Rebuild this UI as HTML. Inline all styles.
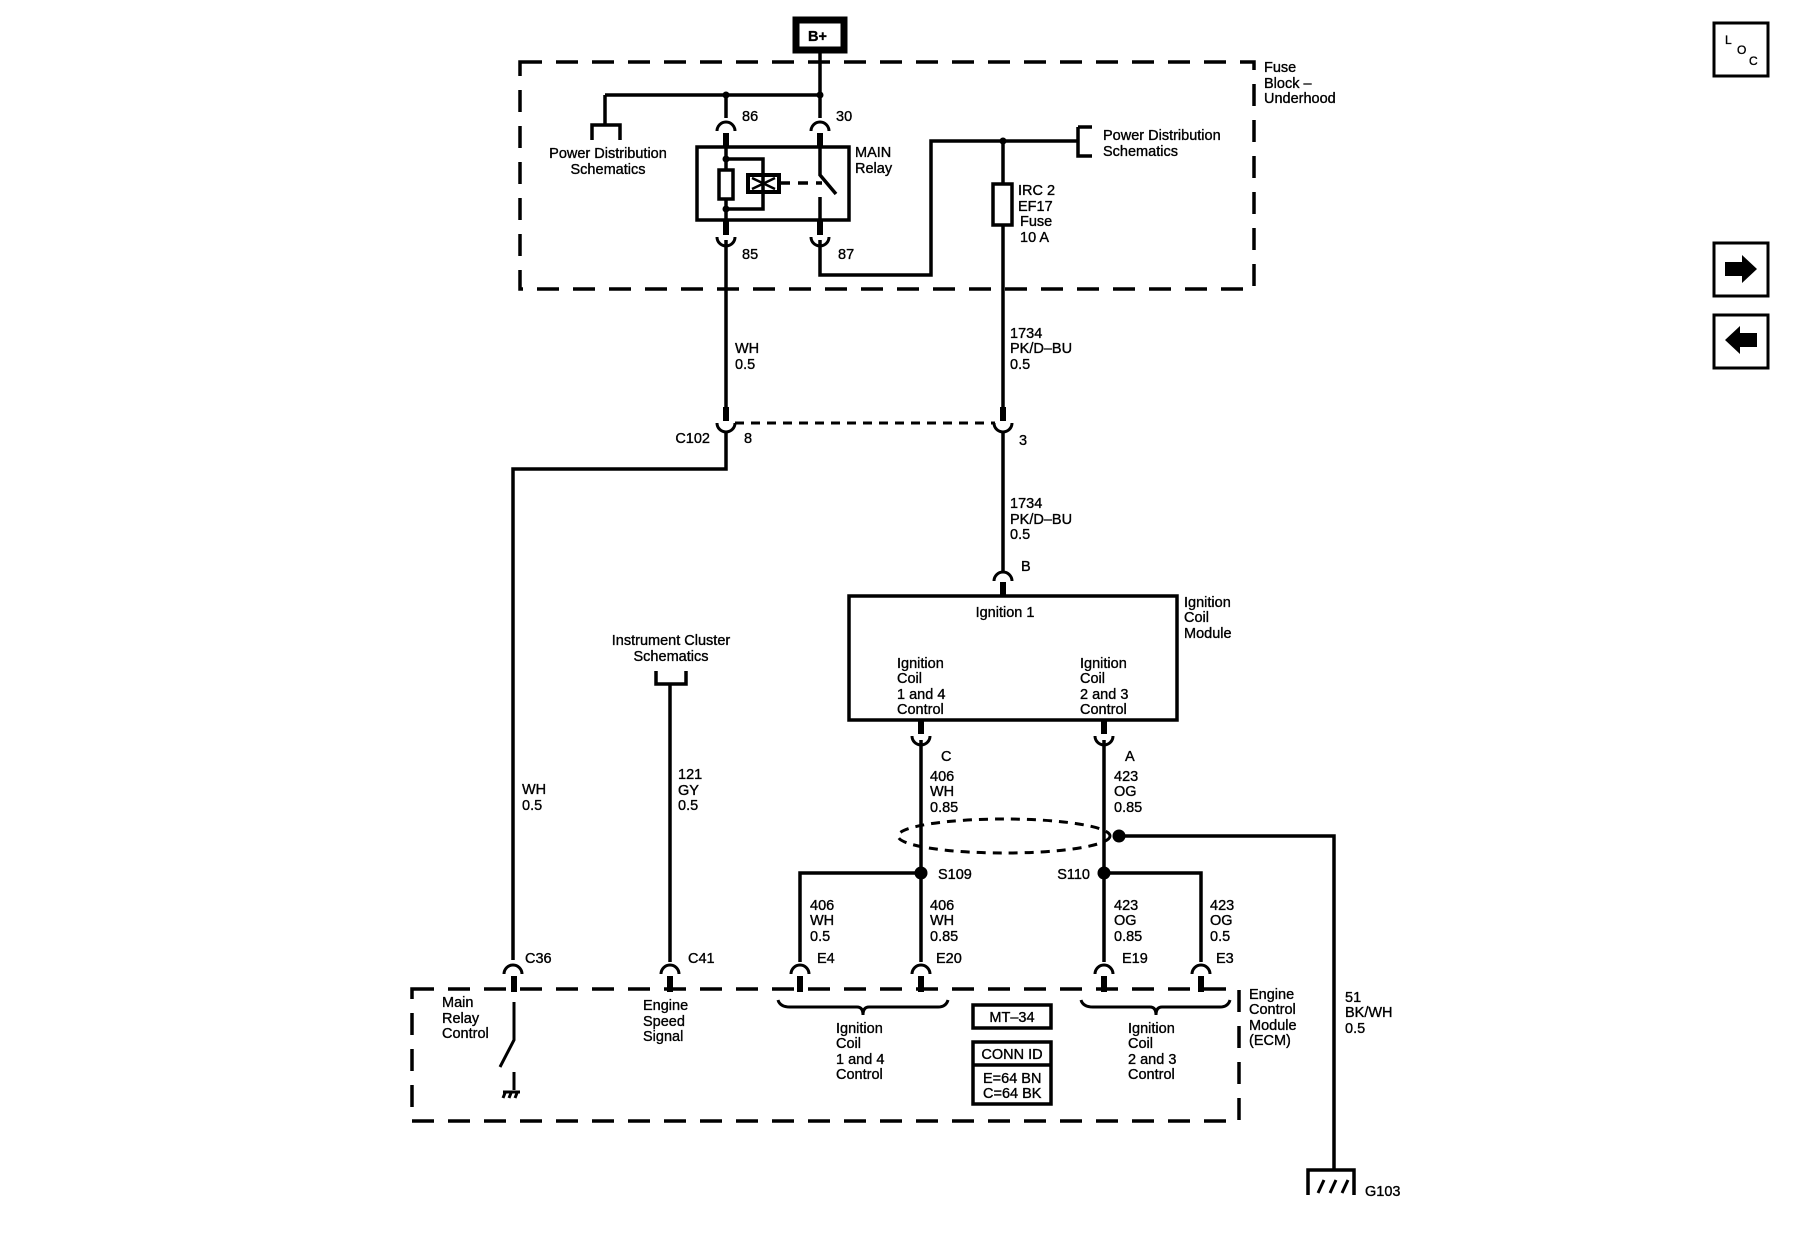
<!DOCTYPE html>
<html><head><meta charset="utf-8"><style>
html,body{margin:0;padding:0;background:#fff;}
svg{display:block;}
text{font-family:"Liberation Sans",Arial,sans-serif;font-size:14.5px;fill:#000;stroke:#000;stroke-width:0.35px;}
</style></head><body>
<svg width="1800" height="1248" viewBox="0 0 1800 1248" xmlns="http://www.w3.org/2000/svg">
<g fill="none" stroke="#000" stroke-width="3.5">
<path d="M520 62 H1254 V289 H520 Z" stroke-dasharray="22 14"/>
<path d="M412 989 H1239 V1121 H412 Z" stroke-dasharray="22 14"/>
<rect x="796" y="20" width="48" height="30" stroke-width="7"/>
<path d="M820 53 V95 M605 95 H820 M605 95 V125 M592 140 V125 H620 V140"/>
<path d="M726 95 V118 M820 95 V118"/>
<rect x="697" y="147" width="152" height="73"/>
<path d="M726 147 V220 M726 159 H763 V209 H726"/>
<rect x="719" y="170" width="14" height="29" fill="#fff"/>
<rect x="748" y="175" width="31" height="17" stroke-width="4"/>
<path d="M752 178 L775 189 M752 189 L775 178" stroke-width="2.5"/>
<path d="M780 183 H822" stroke-dasharray="10 8"/>
<path d="M820 147 V175 L836 194 M820 197 V220"/>
<path d="M820 240 V275 H931 V141 H1078 M1078 127 V156 H1092 M1078 127 H1092"/>
<path d="M1003 141 V418"/>
<rect x="993" y="184" width="19" height="41" fill="#fff"/>
<path d="M726 240 V418"/>
<path d="M735 423 H995" stroke-dasharray="9 7" stroke-width="3"/>
<path d="M726 432 V469 H513 V960"/>
<path d="M1003 432 V572"/>
<rect x="849" y="596" width="328" height="124"/>
<path d="M921 740 V962 M1104 740 V962 M921 873 H800 V962 M1104 873 H1201 V962"/>
<ellipse cx="1004" cy="836" rx="106" ry="17" stroke-dasharray="9 7" stroke-width="3"/>
<path d="M1119 836 H1334 V1170 M1308 1195 V1170 H1354 V1195"/>
<path d="M1318 1193 L1324 1180 M1330 1193 L1336 1180 M1342 1193 L1348 1180" stroke-width="3"/>
<path d="M656 671 V684 H686 V671 M670 684 V962"/>
<path d="M514 1002 V1040 L500 1067 M514 1072 V1090 M505 1093 L503 1098 M511 1093 L509 1098 M517 1093 L515 1098 M503 1092 H520" stroke-width="3"/>
<path d="M778 1000 Q780 1007 790 1007 H857 Q863 1007 863 1015 Q863 1007 869 1007 H938 Q946 1007 948 1000" stroke-width="3"/>
<path d="M1081 1000 Q1083 1007 1093 1007 H1150 Q1156 1007 1156 1015 Q1156 1007 1162 1007 H1220 Q1228 1007 1230 1000" stroke-width="3"/>
<rect x="973" y="1005" width="78" height="23"/>
<rect x="973" y="1042" width="78" height="62"/>
<path d="M973 1065 H1051"/>
<rect x="1714" y="23" width="54" height="53" stroke-width="3"/>
<rect x="1714" y="243" width="54" height="53" stroke-width="3"/>
<rect x="1714" y="315" width="54" height="53" stroke-width="3"/>
</g>
<g fill="#000">
<circle cx="726" cy="95" r="3.5"/><circle cx="820" cy="95" r="3.5"/>
<circle cx="726" cy="159" r="3.5"/><circle cx="726" cy="209" r="3.5"/>
<circle cx="1003" cy="141" r="3.5"/>
<circle cx="921" cy="873" r="6.5"/><circle cx="1104" cy="873" r="6.5"/><circle cx="1119" cy="836" r="6.5"/>
<polygon points="1725,262 1742,262 1742,255 1757,269 1742,283 1742,276 1725,276"/>
<polygon points="1757,333 1740,333 1740,326 1725,340 1740,354 1740,347 1757,347"/>
<rect x="723" y="133" width="6" height="14"/><rect x="817" y="133" width="6" height="14"/>
<rect x="723" y="220" width="6" height="15"/><rect x="817" y="220" width="6" height="15"/>
<rect x="723" y="407" width="6" height="14"/><rect x="1000" y="407" width="6" height="14"/>
<rect x="1000" y="582" width="6" height="14"/>
<rect x="918" y="720" width="6" height="14"/><rect x="1101" y="720" width="6" height="14"/>
<rect x="511" y="976" width="6" height="16"/><rect x="667" y="976" width="6" height="16"/>
<rect x="797" y="976" width="6" height="16"/><rect x="918" y="976" width="6" height="16"/>
<rect x="1101" y="976" width="6" height="16"/><rect x="1198" y="976" width="6" height="16"/>
</g>
<g fill="none" stroke="#000" stroke-width="3">
<path d="M717 131 A9 9 0 0 1 735 131 M811 131 A9 9 0 0 1 829 131"/>
<path d="M717 237 A9 9 0 0 0 735 237 M811 237 A9 9 0 0 0 829 237"/>
<path d="M717 423 A9 9 0 0 0 735 423 M994 423 A9 9 0 0 0 1012 423"/>
<path d="M994 581 A9 9 0 0 1 1012 581"/>
<path d="M912 736 A9 9 0 0 0 930 736 M1095 736 A9 9 0 0 0 1113 736"/>
<path d="M504 974 A9 9 0 0 1 522 974 M661 974 A9 9 0 0 1 679 974 M791 974 A9 9 0 0 1 809 974 M912 974 A9 9 0 0 1 930 974 M1095 974 A9 9 0 0 1 1113 974 M1192 974 A9 9 0 0 1 1210 974"/>
</g>
<g>
<text x="808" y="41" style="font-weight:bold">B+</text>
<text x="1264" y="72">Fuse</text><text x="1264" y="88">Block –</text><text x="1264" y="103">Underhood</text>
<text x="608" y="158" text-anchor="middle">Power Distribution</text><text x="608" y="174" text-anchor="middle">Schematics</text>
<text x="742" y="121">86</text><text x="836" y="121">30</text>
<text x="742" y="259">85</text><text x="838" y="259">87</text>
<text x="855" y="157">MAIN</text><text x="855" y="173">Relay</text>
<text x="1103" y="140">Power Distribution</text><text x="1103" y="156">Schematics</text>
<text x="1018" y="195">IRC 2</text><text x="1018" y="211">EF17</text><text x="1020" y="226">Fuse</text><text x="1020" y="242">10 A</text>
<text x="735" y="353">WH</text><text x="735" y="369">0.5</text>
<text x="1010" y="338">1734</text><text x="1010" y="353">PK/D–BU</text><text x="1010" y="369">0.5</text>
<text x="710" y="443" text-anchor="end">C102</text><text x="744" y="443">8</text><text x="1019" y="445">3</text>
<text x="1010" y="508">1734</text><text x="1010" y="524">PK/D–BU</text><text x="1010" y="539">0.5</text>
<text x="1021" y="571">B</text>
<text x="1005" y="617" text-anchor="middle">Ignition 1</text>
<text x="1184" y="607">Ignition</text><text x="1184" y="622">Coil</text><text x="1184" y="638">Module</text>
<text x="897" y="668">Ignition</text><text x="897" y="683">Coil</text><text x="897" y="699">1 and 4</text><text x="897" y="714">Control</text>
<text x="1080" y="668">Ignition</text><text x="1080" y="683">Coil</text><text x="1080" y="699">2 and 3</text><text x="1080" y="714">Control</text>
<text x="941" y="761">C</text><text x="1125" y="761">A</text>
<text x="930" y="781">406</text><text x="930" y="796">WH</text><text x="930" y="812">0.85</text>
<text x="1114" y="781">423</text><text x="1114" y="796">OG</text><text x="1114" y="812">0.85</text>
<text x="938" y="879">S109</text><text x="1090" y="879" text-anchor="end">S110</text>
<text x="810" y="910">406</text><text x="810" y="925">WH</text><text x="810" y="941">0.5</text>
<text x="930" y="910">406</text><text x="930" y="925">WH</text><text x="930" y="941">0.85</text>
<text x="1114" y="910">423</text><text x="1114" y="925">OG</text><text x="1114" y="941">0.85</text>
<text x="1210" y="910">423</text><text x="1210" y="925">OG</text><text x="1210" y="941">0.5</text>
<text x="671" y="645" text-anchor="middle">Instrument Cluster</text><text x="671" y="661" text-anchor="middle">Schematics</text>
<text x="522" y="794">WH</text><text x="522" y="810">0.5</text>
<text x="678" y="779">121</text><text x="678" y="795">GY</text><text x="678" y="810">0.5</text>
<text x="525" y="963">C36</text><text x="688" y="963">C41</text>
<text x="817" y="963">E4</text><text x="936" y="963">E20</text><text x="1122" y="963">E19</text><text x="1216" y="963">E3</text>
<text x="442" y="1007">Main</text><text x="442" y="1023">Relay</text><text x="442" y="1038">Control</text>
<text x="643" y="1010">Engine</text><text x="643" y="1026">Speed</text><text x="643" y="1041">Signal</text>
<text x="836" y="1033">Ignition</text><text x="836" y="1048">Coil</text><text x="836" y="1064">1 and 4</text><text x="836" y="1079">Control</text>
<text x="1128" y="1033">Ignition</text><text x="1128" y="1048">Coil</text><text x="1128" y="1064">2 and 3</text><text x="1128" y="1079">Control</text>
<text x="1012" y="1022" text-anchor="middle">MT–34</text>
<text x="1012" y="1059" text-anchor="middle">CONN ID</text>
<text x="983" y="1083">E=64 BN</text><text x="983" y="1098">C=64 BK</text>
<text x="1249" y="999">Engine</text><text x="1249" y="1014">Control</text><text x="1249" y="1030">Module</text><text x="1249" y="1045">(ECM)</text>
<text x="1345" y="1002">51</text><text x="1345" y="1017">BK/WH</text><text x="1345" y="1033">0.5</text>
<text x="1365" y="1196">G103</text>
<text x="1725" y="44" style="font-size:12px">L</text><text x="1737" y="54" style="font-size:12px">O</text><text x="1749" y="65" style="font-size:12px">C</text>
</g>
</svg>
</body></html>
